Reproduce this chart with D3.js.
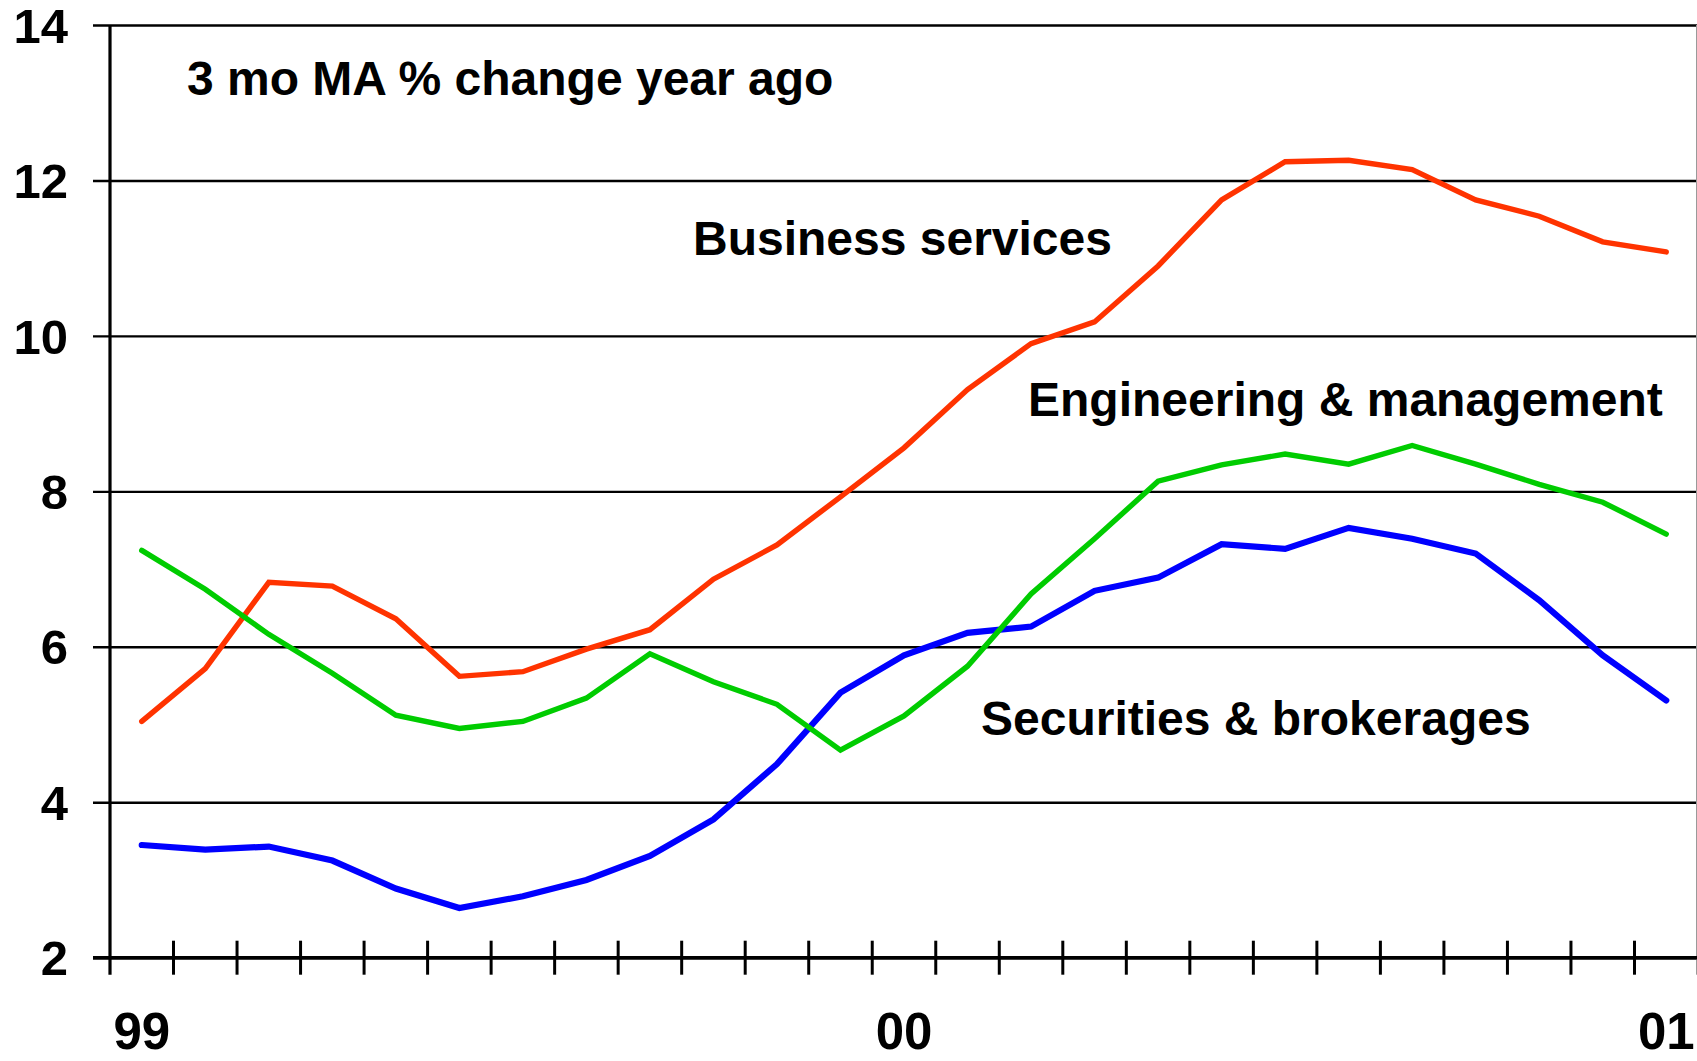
<!DOCTYPE html>
<html>
<head>
<meta charset="utf-8">
<script src="https://cdn.jsdelivr.net/npm/d3@7"></script>
<style>
  html, body { margin: 0; padding: 0; background: #fff; }
  svg { display: block; }
  text { font-family: "Liberation Sans", Arial, Helvetica, sans-serif; font-weight: bold; fill: #000; }
</style>
</head>
<body>
<svg id="chart" width="1697" height="1061"></svg>
<script>
// Monthly observations, Jan 1999 through Jan 2001
const months = [
  "Jan 99","Feb 99","Mar 99","Apr 99","May 99","Jun 99","Jul 99","Aug 99","Sep 99","Oct 99","Nov 99","Dec 99",
  "Jan 00","Feb 00","Mar 00","Apr 00","May 00","Jun 00","Jul 00","Aug 00","Sep 00","Oct 00","Nov 00","Dec 00",
  "Jan 01"
];

// 3-month moving average, % change from a year ago
const businessServices = [
  5.04, 5.72, 6.83, 6.78, 6.36, 5.62, 5.68, 5.97, 6.22, 6.87, 7.31, 7.93,
  8.56, 9.31, 9.90, 10.18, 10.90, 11.75, 12.24, 12.26, 12.14, 11.75, 11.54, 11.21,
  11.08
];
const engineeringManagement = [
  7.24, 6.74, 6.16, 5.66, 5.12, 4.95, 5.04, 5.34, 5.91, 5.55, 5.26, 4.67,
  5.11, 5.75, 6.68, 7.39, 8.13, 8.34, 8.48, 8.35, 8.59, 8.35, 8.09, 7.86,
  7.45
];
const securitiesBrokerages = [
  3.45, 3.39, 3.43, 3.25, 2.89, 2.64, 2.79, 3.00, 3.31, 3.78, 4.49, 5.41,
  5.89, 6.18, 6.26, 6.72, 6.89, 7.32, 7.26, 7.53, 7.39, 7.20, 6.60, 5.89,
  5.31
];

// Axis ticks
const yTicks = [2, 4, 6, 8, 10, 12, 14];
const yearTicks = ["Jan 99", "Jan 00", "Jan 01"];
const yearTickLabels = ["99", "00", "01"];

const W = 1697, H = 1061;
const plotLeft = 110, plotRight = 1698, plotTop = 25, plotBottom = 957.7;

const svg = d3.select("#chart");

const x = d3.scaleBand().domain(months).range([plotLeft, plotRight]).paddingInner(0).paddingOuter(0);
const y = d3.scaleLinear().domain([2, 14]).range([plotBottom, plotTop]);
const cx = m => x(m) + x.bandwidth() / 2;

// Horizontal gridlines with left tick labels
const yAxis = d3.axisLeft(y)
  .tickValues(yTicks)
  .tickSize(-(W - 93))
  .tickPadding(25);
const gy = svg.append("g").attr("transform", "translate(93,0)").call(yAxis);
gy.select(".domain").remove();
gy.selectAll(".tick line").attr("stroke", "#000").attr("stroke-width", 2.4);
gy.selectAll(".tick text")
  .attr("font-size", 49)
  .attr("font-family", null)
  .attr("dy", "0.35em");

// Vertical axis line
svg.append("line")
  .attr("x1", plotLeft).attr("x2", plotLeft)
  .attr("y1", y(14)).attr("y2", plotBottom + 17)
  .attr("stroke", "#000").attr("stroke-width", 3.2);

// Right edge of plot frame
svg.append("line")
  .attr("x1", W - 0.5).attr("x2", W - 0.5)
  .attr("y1", y(14)).attr("y2", plotBottom + 17)
  .attr("stroke", "#9a9a9a").attr("stroke-width", 1);

// Horizontal axis line
svg.append("line")
  .attr("x1", 93).attr("x2", W)
  .attr("y1", plotBottom).attr("y2", plotBottom)
  .attr("stroke", "#000").attr("stroke-width", 3.4);

// Month tick marks at category boundaries
svg.append("g").selectAll("line")
  .data(months.slice(1))
  .join("line")
  .attr("x1", d => x(d)).attr("x2", d => x(d))
  .attr("y1", plotBottom - 17).attr("y2", plotBottom + 17)
  .attr("stroke", "#000").attr("stroke-width", 3);

// Year labels under January of each year
const xAxis = d3.axisBottom(x)
  .tickValues(yearTicks)
  .tickFormat((d, i) => yearTickLabels[i])
  .tickSize(0)
  .tickPadding(0);
const gx = svg.append("g").attr("transform", `translate(0,${plotBottom})`).call(xAxis);
gx.select(".domain").remove();
gx.selectAll(".tick text")
  .attr("font-size", 51)
  .attr("font-family", null)
  .attr("y", 91)
  .attr("dy", 0);

// Series lines
const line = d3.line()
  .x((d, i) => cx(months[i]))
  .y(d => y(d));

const series = [
  { name: "Securities & brokerages", values: securitiesBrokerages, color: "#0000ff", width: 6.2 },
  { name: "Business services", values: businessServices, color: "#ff3300", width: 5.4 },
  { name: "Engineering & management", values: engineeringManagement, color: "#00cc00", width: 5.4 }
];

svg.append("g").selectAll("path")
  .data(series)
  .join("path")
  .attr("d", d => line(d.values))
  .attr("fill", "none")
  .attr("stroke", d => d.color)
  .attr("stroke-width", d => d.width)
  .attr("stroke-linecap", "round")
  .attr("stroke-linejoin", "miter");

// Annotations
const notes = [
  { text: "3 mo MA % change year ago", x: 187, y: 95 },
  { text: "Business services", x: 693, y: 255 },
  { text: "Engineering & management", x: 1028, y: 416 },
  { text: "Securities & brokerages", x: 981, y: 735 }
];
svg.append("g").selectAll("text")
  .data(notes)
  .join("text")
  .attr("x", d => d.x)
  .attr("y", d => d.y)
  .attr("font-size", 48)
  .text(d => d.text);
</script>
</body>
</html>
